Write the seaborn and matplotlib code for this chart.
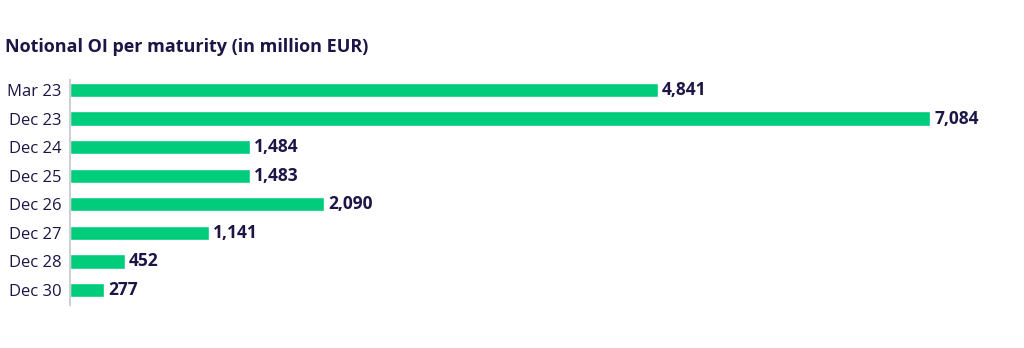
import matplotlib
matplotlib.use("Agg")
import matplotlib.pyplot as plt
import seaborn as sns
import pandas as pd

maturities = ["Mar 23", "Dec 23", "Dec 24", "Dec 25", "Dec 26", "Dec 27", "Dec 28", "Dec 30"]
notional_oi = [4841, 7084, 1484, 1483, 2090, 1141, 452, 277]
title = "Notional OI per maturity (in million EUR)"

BAR = "#00CC7C"
TXT = "#1B1646"

sns.set_theme(style="white")
plt.rcParams["font.family"] = ["Open Sans", "DejaVu Sans"]

df = pd.DataFrame({"maturity": maturities, "oi": notional_oi})

fig = plt.figure(figsize=(10.24, 3.48), dpi=100)
ax = fig.add_axes([70 / 1024, 1 - 305 / 348, 930 / 1024, 225 / 348])
sns.barplot(data=df, y="maturity", x="oi", orient="h", color=BAR, width=0.5,
            saturation=1, ax=ax)

ax.set_xlim(0, 7660)
ax.set_ylim(7.525, -0.35)
for i, v in enumerate(notional_oi):
    ax.annotate(f"{v:,}", xy=(v, i), xytext=(3, 0), textcoords="offset points",
                va="center", ha="left", fontsize=12.5, fontweight="bold", color=TXT)

ax.set_xlabel("")
ax.set_ylabel("")
ax.set_xticks([])
ax.tick_params(axis="y", length=0, pad=6, labelsize=12, labelcolor=TXT)
for s in ["top", "right", "bottom"]:
    ax.spines[s].set_visible(False)
ax.spines["left"].set_color("#D0D0D0")
ax.spines["left"].set_linewidth(1.5)

fig.text(5 / 1024, 1 - 47 / 348, title, fontsize=13.0, fontweight="bold", color=TXT,
         ha="left", va="center")

fig.savefig("out.png", dpi=100)
